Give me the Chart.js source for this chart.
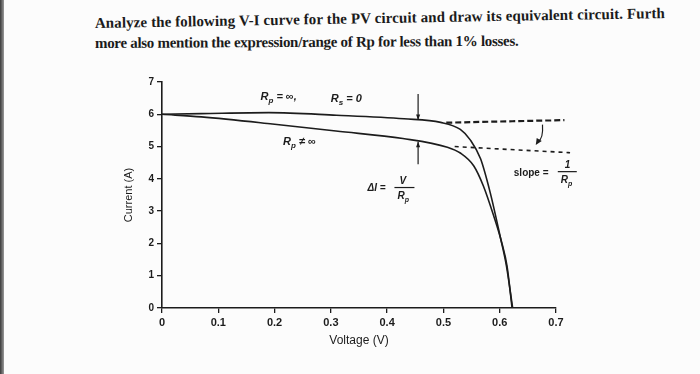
<!DOCTYPE html>
<html>
<head>
<meta charset="utf-8">
<script src="https://cdn.jsdelivr.net/npm/chart.js@4/dist/chart.umd.min.js"></script>
<style>
  html, body { margin: 0; padding: 0; background: #fcfcfc; }
  #wrap { position: relative; width: 700px; height: 374px; overflow: hidden; }
  #edge { position: absolute; left: 0; top: 0; width: 4px; height: 374px; background: linear-gradient(to right, #3a3a3a, #9a9a9a); }
  .q { position: absolute; left: 95px; white-space: nowrap; font: bold 15px "Liberation Serif", serif; line-height: 17px; color: #1b1b1b; transform-origin: left bottom; }
  #q1 { top: 15px; letter-spacing: 0.1px; transform: rotate(-1deg); }
  #q2 { top: 35px; letter-spacing: -0.3px; transform: rotate(-0.3deg); }
  canvas { position: absolute; left: 0; top: 0; }
</style>
</head>
<body>
<div id="wrap">
  <div id="edge"></div>
  <div class="q" id="q1">Analyze the following V-I curve for the PV circuit and draw its equivalent circuit. Furth</div>
  <div class="q" id="q2">more also mention the expression/range of Rp for less than 1% losses.</div>
  <canvas id="chart" width="700" height="374"></canvas>
</div>
<script>
// curve with Rp = infinity, Rs = 0
const voltageIdeal = [0, 0.07, 0.19, 0.31, 0.43, 0.495, 0.53, 0.548, 0.566, 0.583, 0.601, 0.612, 0.623];
const currentIdeal = [6.0, 6.02, 6.05, 5.97, 5.86, 5.75, 5.53, 5.2, 4.62, 3.58, 2.2, 1.3, 0];

// curve with finite Rp
const voltageShunt = [0, 0.07, 0.196, 0.309, 0.428, 0.507, 0.53, 0.554, 0.571, 0.589, 0.604, 0.613, 0.622];
const currentShunt = [6.0, 5.92, 5.7, 5.48, 5.25, 4.98, 4.8, 4.4, 3.78, 2.87, 2.0, 1.3, 0];

// dashed extensions
const voltageFlat = [0.505, 0.715];
const currentFlat = [5.74, 5.82];
const voltageSlope = [0.52, 0.725];
const currentSlope = [5.0, 4.81];

const voltageTicks = [0, 0.1, 0.2, 0.3, 0.4, 0.5, 0.6, 0.7];
const currentTicks = [0, 1, 2, 3, 4, 5, 6, 7];

const ink = '#1c1c1c';
const toPoints = (xs, ys) => xs.map((x, i) => ({ x, y: ys[i] }));

// draws text made of [text, isSubscript] parts, returns end x
function drawParts(ctx, parts, x, y, size) {
  parts.forEach(([text, sub]) => {
    ctx.font = `italic bold ${sub ? size - 3 : size}px "Liberation Sans", Arial, sans-serif`;
    ctx.fillText(text, x, sub ? y + 3 : y);
    x += ctx.measureText(text).width;
  });
  return x;
}

function arrow(ctx, x1, y1, x2, y2) {
  ctx.beginPath();
  ctx.moveTo(x1, y1);
  ctx.lineTo(x2, y2);
  ctx.stroke();
  const a = Math.atan2(y2 - y1, x2 - x1);
  ctx.beginPath();
  ctx.moveTo(x2, y2);
  ctx.lineTo(x2 - 6 * Math.cos(a - 0.35), y2 - 6 * Math.sin(a - 0.35));
  ctx.lineTo(x2 - 6 * Math.cos(a + 0.35), y2 - 6 * Math.sin(a + 0.35));
  ctx.closePath();
  ctx.fill();
}

const notes = {
  id: 'notes',
  afterDatasetsDraw(chart) {
    const { ctx, scales: { x, y } } = chart;
    ctx.save();
    ctx.fillStyle = ink;
    ctx.strokeStyle = ink;
    ctx.lineWidth = 1.2;
    ctx.textBaseline = 'alphabetic';

    drawParts(ctx, [['R'], ['p', true], [' = \u221e,']], x.getPixelForValue(0.175), y.getPixelForValue(6.45), 11);
    drawParts(ctx, [['R'], ['s', true], [' = 0']], x.getPixelForValue(0.3), y.getPixelForValue(6.38), 11);
    drawParts(ctx, [['R'], ['p', true], [' \u2260 \u221e']], x.getPixelForValue(0.215), y.getPixelForValue(5.05), 11);

    // delta I = V / Rp
    const dx = x.getPixelForValue(0.365);
    const dy = y.getPixelForValue(3.75);
    drawParts(ctx, [['\u0394I =']], dx, dy + 4, 10);
    ctx.fillRect(dx + 27, dy, 20, 1.2);
    drawParts(ctx, [['V']], dx + 32, dy - 3, 10);
    drawParts(ctx, [['R'], ['p', true]], dx + 30, dy + 12, 10);

    // slope = 1 / Rp
    const sx = x.getPixelForValue(0.625);
    const sy = y.getPixelForValue(4.18);
    ctx.font = 'bold 10px "Liberation Sans", Arial, sans-serif';
    ctx.fillText('slope =', sx, sy + 3);
    ctx.fillRect(sx + 44, sy - 2, 19, 1.2);
    drawParts(ctx, [['1']], sx + 51, sy - 5, 10);
    drawParts(ctx, [['R'], ['p', true]], sx + 47, sy + 10, 10);

    // arrows marking the current gap
    const ax = x.getPixelForValue(0.455);
    arrow(ctx, ax, y.getPixelForValue(6.63), ax, y.getPixelForValue(5.82));
    arrow(ctx, ax, y.getPixelForValue(4.45), ax, y.getPixelForValue(5.15));

    // curved arrow between the dashed lines
    const c0x = x.getPixelForValue(0.676), c0y = y.getPixelForValue(5.68);
    const c1x = x.getPixelForValue(0.664), c1y = y.getPixelForValue(5.05);
    ctx.beginPath();
    ctx.moveTo(c0x, c0y);
    ctx.quadraticCurveTo(c0x + 1, c1y - 6, c1x + 2, c1y - 3);
    ctx.stroke();
    ctx.beginPath();
    ctx.moveTo(c1x, c1y);
    ctx.lineTo(c1x + 1, c1y - 7);
    ctx.lineTo(c1x + 6, c1y - 4);
    ctx.closePath();
    ctx.fill();
    ctx.restore();
  },
};

const curve = {
  showLine: true,
  borderColor: ink,
  borderWidth: 1.6,
  pointRadius: 0,
  cubicInterpolationMode: 'monotone',
};

new Chart(document.getElementById('chart'), {
  type: 'scatter',
  data: {
    datasets: [
      { ...curve, label: 'Rp = inf', data: toPoints(voltageIdeal, currentIdeal) },
      { ...curve, label: 'Rp finite', data: toPoints(voltageShunt, currentShunt) },
      { ...curve, label: 'flat', data: toPoints(voltageFlat, currentFlat), borderWidth: 2.2, borderDash: [6, 3], clip: false },
      { ...curve, label: 'slope', data: toPoints(voltageSlope, currentSlope), borderWidth: 1.6, borderDash: [4, 4], clip: false },
    ],
  },
  options: {
    responsive: false,
    animation: false,
    layout: { padding: { top: 82, right: 144, left: 118, bottom: 22 } },
    plugins: { legend: { display: false }, tooltip: { enabled: false } },
    scales: {
      x: {
        type: 'linear',
        min: 0,
        max: 0.7,
        afterFit: (s) => { s.height = 44; },
        afterBuildTicks: (s) => { s.ticks = voltageTicks.map((value) => ({ value })); },
        grid: { drawOnChartArea: false, tickLength: 5, color: ink, lineWidth: 1.3 },
        border: { color: ink, width: 1.6 },
        ticks: {
          color: ink,
          padding: 3,
          maxRotation: 0,
          font: { family: 'Liberation Sans', size: 11, weight: 'bold' },
          callback: (v) => (v === 0 ? '0' : v.toFixed(1)),
        },
        title: { display: true, text: 'Voltage (V)', color: ink, padding: 4, font: { family: 'Liberation Sans', size: 12 } },
      },
      y: {
        min: 0,
        max: 7,
        afterFit: (s) => { s.width = 44; },
        afterBuildTicks: (s) => { s.ticks = currentTicks.map((value) => ({ value })); },
        grid: { drawOnChartArea: false, tickLength: 5, color: ink, lineWidth: 1.3 },
        border: { color: ink, width: 1.6 },
        ticks: {
          color: ink,
          padding: 3,
          font: { family: 'Liberation Sans', size: 10, weight: 'bold' },
        },
        title: { display: true, text: 'Current (A)', color: ink, padding: 4, font: { family: 'Liberation Sans', size: 11 } },
      },
    },
  },
  plugins: [notes],
});
</script>
</body>
</html>
